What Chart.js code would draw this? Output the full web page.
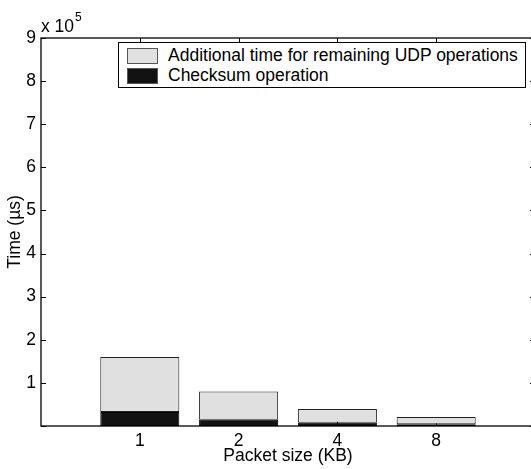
<!DOCTYPE html>
<html>
<head>
<meta charset="utf-8">
<script src="https://cdn.jsdelivr.net/npm/chart.js@4.4.1/dist/chart.umd.min.js"></script>
<style>
  html, body { margin: 0; padding: 0; background: #fff; overflow: hidden; }
  #wrap { position: relative; width: 545px; height: 469px; }
  #legend {
    position: absolute; left: 118px; top: 42px; width: 406px; height: 44px;
    border: 1px solid #000; background: #fff;
    font-family: "Liberation Sans", Arial, sans-serif; font-size: 17.5px; color: #000;
  }
  #legend .row { position: absolute; left: 8px; height: 17px; line-height: 17px; white-space: nowrap; }
  #legend .sw { display: inline-block; width: 29px; height: 14px; border: 1px solid #555; vertical-align: top; margin: 0 10px 0 0; position: relative; top: 1px; }
</style>
</head>
<body>
<div id="wrap">
  <canvas id="chart" width="545" height="469"></canvas>
  <div id="legend"></div>
</div>
<script>
const categories = ['1', '2', '4', '8'];
// times in microseconds
const checksumTime = [32500, 14700, 7700, 4000];
const remainingTime = [127500, 65300, 31800, 16900];
const yTicks = [0, 1, 2, 3, 4, 5, 6, 7, 8, 9];
const yScaleExp = 5;

const FONT = '"Liberation Sans", Arial, sans-serif';
Chart.defaults.font.family = FONT;
Chart.defaults.font.size = 17.5;
Chart.defaults.color = '#000';

const toPoints = arr => arr.map((v, i) => ({ x: i + 1, y: v }));

// box + inward ticks on all four sides, matlab style
const axesBox = {
  id: 'axesBox',
  beforeDatasetsDraw(chart) {
    const { ctx, chartArea: a, scales } = chart;
    ctx.save();
    ctx.strokeStyle = '#000';
    ctx.lineWidth = 1;
    ctx.beginPath();
    scales.y.ticks.forEach(t => {
      const y = Math.round(scales.y.getPixelForValue(t.value)) + 0.5;
      ctx.moveTo(a.left, y); ctx.lineTo(a.left + 5, y);
      ctx.moveTo(a.right, y); ctx.lineTo(a.right - 5, y);
    });
    categories.forEach((c, i) => {
      const x = Math.round(scales.x.getPixelForValue(i + 1)) + 0.5;
      ctx.moveTo(x, a.top); ctx.lineTo(x, a.top + 5);
      ctx.moveTo(x, a.bottom); ctx.lineTo(x, a.bottom - 5);
    });
    ctx.stroke();
    ctx.lineWidth = 1.3;
    ctx.strokeRect(a.left, a.top, a.right - a.left, a.bottom - a.top);
    ctx.restore();
  },
  afterDraw(chart) {
    const { ctx, chartArea: a } = chart;
    ctx.save();
    ctx.fillStyle = '#000';
    ctx.textBaseline = 'alphabetic';
    ctx.font = '17.5px ' + FONT;
    ctx.fillText('x 10', a.left, a.top - 6);
    const w = ctx.measureText('x 10').width;
    ctx.font = '12px ' + FONT;
    ctx.fillText(String(yScaleExp), a.left + w + 1, a.top - 17);
    ctx.restore();
  }
};

const chart = new Chart(document.getElementById('chart'), {
  type: 'bar',
  data: {
    datasets: [
      {
        label: 'Checksum operation',
        data: toPoints(checksumTime),
        backgroundColor: '#121212',
        borderColor: '#000',
        borderWidth: 1,
        borderSkipped: false,
        stack: 's'
      },
      {
        label: 'Additional time for remaining UDP operations',
        data: toPoints(remainingTime),
        backgroundColor: '#e0e0e0',
        borderColor: '#222',
        borderWidth: 1,
        borderSkipped: false,
        stack: 's'
      }
    ]
  },
  options: {
    responsive: false,
    animation: false,
    layout: { padding: { top: 38, right: 10, left: 0, bottom: 0 } },
    datasets: { bar: { barPercentage: 0.8, categoryPercentage: 1 } },
    plugins: { legend: { display: false }, tooltip: { enabled: false } },
    scales: {
      x: {
        type: 'linear',
        offset: false,
        min: 0,
        max: 5,
        grid: { display: false, drawTicks: false },
        border: { display: false },
        ticks: {
          stepSize: 1,
          padding: 5,
          callback: v => categories[v - 1] || ''
        },
        title: { display: true, text: 'Packet size (KB)', padding: { top: 0, bottom: 2 } },
        afterFit: s => { s.height = 43; }
      },
      y: {
        stacked: true,
        min: 0,
        max: 900000,
        grid: { display: false, drawTicks: false },
        border: { display: false },
        ticks: {
          stepSize: 100000,
          padding: 5,
          callback: v => (v === 0 ? '' : String(yTicks[Math.round(v / 10 ** yScaleExp)]))
        },
        title: { display: true, text: 'Time (µs)', padding: { top: 5, bottom: 0 } },
        afterFit: s => { s.width = 41; }
      }
    }
  },
  plugins: [axesBox]
});

// legend inside the axes, top entry first
const legend = document.getElementById('legend');
chart.data.datasets.slice().reverse().forEach((ds, i) => {
  const row = document.createElement('div');
  row.className = 'row';
  row.style.top = (4 + i * 20) + 'px';
  row.innerHTML = `<span class="sw" style="background:${ds.backgroundColor}"></span>${ds.label}`;
  legend.appendChild(row);
});
</script>
</body>
</html>
